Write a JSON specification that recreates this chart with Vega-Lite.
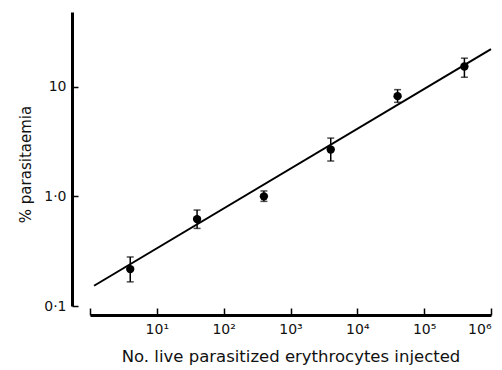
{
  "$schema": "https://vega.github.io/schema/vega-lite/v6.json",
  "autosize": "none",
  "width": 401,
  "height": 294,
  "padding": {"left": 90, "top": 12, "right": 11, "bottom": 64},
  "background": "white",
  "config": {
    "view": {"stroke": null},
    "axis": {
      "grid": false,
      "domainColor": "black",
      "domainWidth": 3,
      "tickColor": "black",
      "tickWidth": 1.5,
      "labelFont": "DejaVu Sans",
      "labelFontSize": 14,
      "labelColor": "#111",
      "titleFont": "DejaVu Sans",
      "titleFontWeight": "normal",
      "titleColor": "#111"
    }
  },
  "datasets": {
    "pts": [
      {"cells": 4, "pct": 0.217, "lo": 0.166, "hi": 0.28},
      {"cells": 40, "pct": 0.62, "lo": 0.51, "hi": 0.75},
      {"cells": 400, "pct": 1.0, "lo": 0.9, "hi": 1.12},
      {"cells": 4000, "pct": 2.67, "lo": 2.1, "hi": 3.4},
      {"cells": 40000, "pct": 8.2, "lo": 7.2, "hi": 9.4},
      {"cells": 400000, "pct": 15.3, "lo": 12.2, "hi": 18.2}
    ],
    "fit": [
      {"cells": 1.15, "pct": 0.153},
      {"cells": 1000000, "pct": 22}
    ]
  },
  "layer": [
    {
      "data": {"name": "fit"},
      "mark": {"type": "line", "color": "black", "strokeWidth": 2},
      "encoding": {
        "x": {
          "field": "cells", "type": "quantitative",
          "scale": {"type": "log", "domain": [1, 1000000], "nice": false},
          "axis": {
            "title": "No. live parasitized erythrocytes injected",
            "values": [1, 10, 100, 1000, 10000, 100000, 1000000],
            "labelExpr": "datum.value < 5 ? '' : '10' + ['¹','²','³','⁴','⁵','⁶'][round(log(datum.value)/LN10) - 1]",
            "offset": 9,
            "tickSize": -7,
            "labelPadding": 14,
            "titleFontSize": 16.5,
            "titlePadding": 12
          }
        },
        "y": {
          "field": "pct", "type": "quantitative",
          "scale": {"type": "log", "domain": [0.1, 48], "nice": false},
          "axis": {
            "title": "% parasitaemia",
            "values": [0.1, 1, 10],
            "labelExpr": "datum.value < 0.5 ? '0·1' : datum.value < 5 ? '1·0' : '10'",
            "offset": 18,
            "tickSize": -6,
            "labelPadding": 12,
            "titleFontSize": 15,
            "titlePadding": 10,
            "titleY": 152
          }
        }
      }
    },
    {
      "data": {"name": "pts"},
      "mark": {"type": "rule", "color": "black", "strokeWidth": 1.5},
      "encoding": {
        "x": {"field": "cells", "type": "quantitative"},
        "y": {"field": "lo", "type": "quantitative"},
        "y2": {"field": "hi"}
      }
    },
    {
      "data": {"name": "pts"},
      "mark": {"type": "tick", "color": "black", "orient": "horizontal", "size": 7, "thickness": 1.5},
      "encoding": {
        "x": {"field": "cells", "type": "quantitative"},
        "y": {"field": "lo", "type": "quantitative"}
      }
    },
    {
      "data": {"name": "pts"},
      "mark": {"type": "tick", "color": "black", "orient": "horizontal", "size": 7, "thickness": 1.5},
      "encoding": {
        "x": {"field": "cells", "type": "quantitative"},
        "y": {"field": "hi", "type": "quantitative"}
      }
    },
    {
      "data": {"name": "pts"},
      "mark": {"type": "circle", "color": "black", "opacity": 1, "size": 70},
      "encoding": {
        "x": {"field": "cells", "type": "quantitative"},
        "y": {"field": "pct", "type": "quantitative"}
      }
    }
  ]
}
